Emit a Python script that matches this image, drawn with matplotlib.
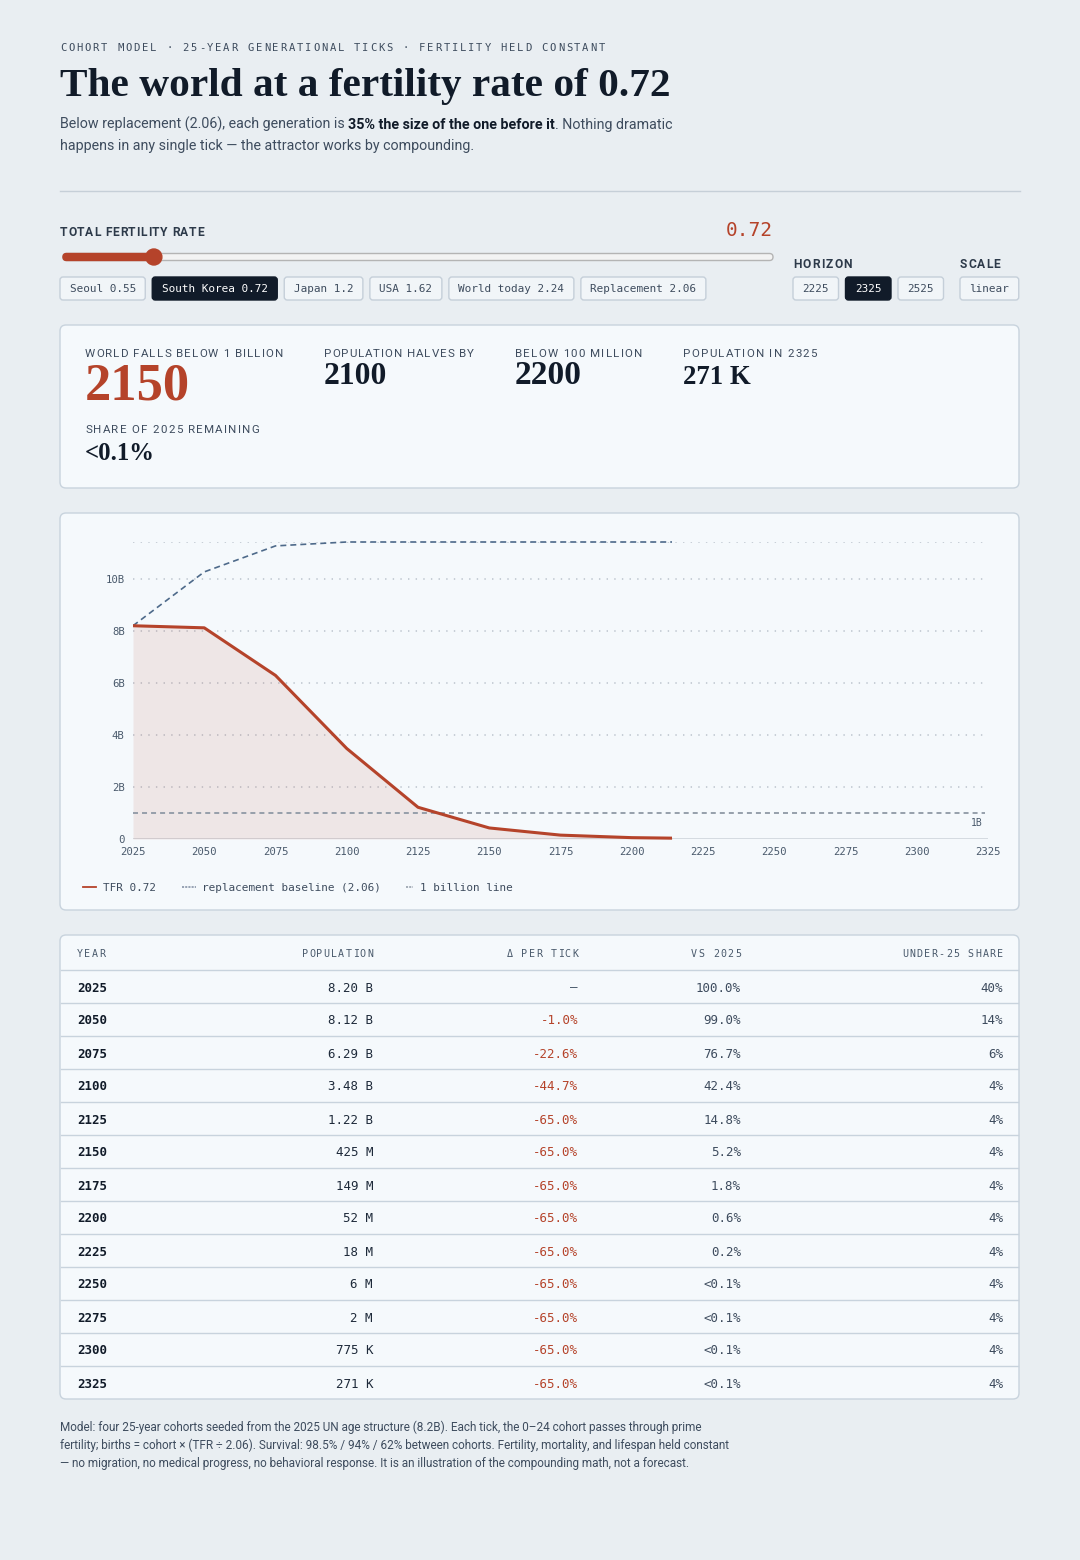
import matplotlib
matplotlib.use("Agg")
import matplotlib.pyplot as plt
from matplotlib.patches import FancyBboxPatch, Rectangle, Circle
from matplotlib.font_manager import FontProperties
from matplotlib.lines import Line2D
from matplotlib.ticker import FuncFormatter

plt.rcParams['lines.scale_dashes'] = False

# ---------------- data ----------------
TFR = 0.72
REPLACEMENT = 2.06
years = [2025, 2050, 2075, 2100, 2125, 2150, 2175, 2200, 2225, 2250, 2275, 2300, 2325]
population = [8.20e9, 8.12e9, 6.29e9, 3.48e9, 1.22e9, 425e6, 149e6, 52e6, 18e6, 6e6, 2e6, 775e3, 271e3]
baseline_pop = [8.20e9, 10.27e9, 11.27e9, 11.42e9, 11.42e9, 11.42e9, 11.42e9, 11.42e9,
                11.42e9, 11.42e9, 11.42e9, 11.42e9, 11.42e9]
delta_per_tick = [None, -1.0, -22.6, -44.7, -65.0, -65.0, -65.0, -65.0, -65.0, -65.0, -65.0, -65.0, -65.0]
vs_2025 = ["100.0%", "99.0%", "76.7%", "42.4%", "14.8%", "5.2%", "1.8%", "0.6%", "0.2%",
           "<0.1%", "<0.1%", "<0.1%", "<0.1%"]
under25_share = [40, 14, 6, 4, 4, 4, 4, 4, 4, 4, 4, 4, 4]
presets = [("Seoul", 0.55), ("South Korea", 0.72), ("Japan", 1.2), ("USA", 1.62),
           ("World today", 2.24), ("Replacement", 2.06)]
horizons = [2225, 2325, 2525]
horizon = 2325
scale_label = "linear"
stat_labels = ["WORLD FALLS BELOW 1 BILLION", "POPULATION HALVES BY", "BELOW 100 MILLION", "POPULATION IN 2325"]
stat_values = ["2150", "2100", "2200", "271 K"]
share_label = "SHARE OF 2025 REMAINING"
share_value = "<0.1%"
y_ticks_b = [0, 2, 4, 6, 8, 10]
reveal_year = 2214          # how far the animated line has been drawn
slider_min, slider_max = 0.4, 2.9
table_headers = ["YEAR", "POPULATION", "Δ PER TICK", "VS 2025", "UNDER-25 SHARE"]

# ---------------- style ----------------
W, H, DPI = 1080, 1560, 100
BG = "#e9eef2"
CARD = "#f5f9fc"
BORDER = "#c8d3dd"
INK = "#111b29"
MUTED = "#3e4c5e"
GRAYTXT = "#4a5a6c"
RED = "#b5432a"
SLATE = "#4e6a8a"
MONO = "DejaVu Sans Mono"
SANS = "Roboto"
SERIF = "Liberation Serif"
PT = 72.0 / DPI

fig = plt.figure(figsize=(W / DPI, H / DPI), dpi=DPI)
fig.patch.set_facecolor(BG)
bg = fig.add_axes([0, 0, 1, 1], zorder=0)
bg.set_xlim(0, W)
bg.set_ylim(H, 0)
bg.axis('off')
renderer = fig.canvas.get_renderer()


def prop(size_px, family, weight='normal'):
    return FontProperties(family=family, weight=weight, size=size_px * PT)


def tw(s, p):
    w, h, d = renderer.get_text_width_height_descent(s, p, ismath=False)
    return w


def adv(s, p):
    return tw(s + '|', p) - tw('|', p)


def fit_size(s, size_px, family, weight, width):
    p = prop(size_px, family, weight)
    return size_px * width / adv(s, p)


def txt(x, y, s, size_px, family=SANS, weight='normal', color=INK, ha='left',
        spaced_width=None, zorder=5):
    p = prop(size_px, family, weight)
    if spaced_width is None:
        bg.text(x, y, s, fontproperties=p, color=color, ha=ha, va='baseline', zorder=zorder)
        return
    widths = [adv(c, p) for c in s]
    spacing = (spaced_width - sum(widths)) / max(len(s) - 1, 1)
    total = sum(widths) + spacing * (len(s) - 1)
    cx = x if ha == 'left' else (x - total if ha == 'right' else x - total / 2)
    for c, w in zip(s, widths):
        if c != ' ':
            bg.text(cx, y, c, fontproperties=p, color=color, ha='left', va='baseline', zorder=zorder)
        cx += w + spacing


def segs(x, y, parts, size_px, family=SANS):
    cx = x
    for s, weight, col in parts:
        p = prop(size_px, family, weight)
        bg.text(cx, y, s, fontproperties=p, color=col, ha='left', va='baseline', zorder=5)
        cx += adv(s, p)


def card(x0, y0, x1, y1, fc=CARD, ec=BORDER, r=6, lw=1.0):
    bg.add_patch(FancyBboxPatch((x0, y0), x1 - x0, y1 - y0,
                                boxstyle=f"round,pad=0,rounding_size={r}",
                                fc=fc, ec=ec, lw=lw, zorder=1))


# ---------------- header ----------------
kicker = "COHORT MODEL · 25-YEAR GENERATIONAL TICKS · FERTILITY HELD CONSTANT"
txt(60, 51, kicker, 10.5, MONO, color=MUTED, spaced_width=545)

title = f"The world at a fertility rate of {TFR:.2f}"
ts = fit_size(title, 40, SERIF, 'bold', 610)
txt(60, 96, title, ts, SERIF, 'bold', INK)

sub1 = [("Below replacement (2.06), each generation is ", 'normal', MUTED),
        ("35% the size of the one before it", 'bold', INK),
        (". Nothing dramatic", 'normal', MUTED)]
p14 = [adv(s, prop(14, SANS, w)) for s, w, c in sub1]
ss = 14 * 614 / sum(p14)
segs(60, 129, sub1, ss)
txt(60, 150, "happens in any single tick — the attractor works by compounding.", ss, SANS, color=MUTED)

bg.plot([60, 1020], [191, 191], color="#c6cfd8", lw=1, zorder=2)

# ---------------- controls ----------------
txt(60, 236, "TOTAL FERTILITY RATE", 12, SANS, 'bold', "#2d3a4a", spaced_width=144)
txt(773, 236, f"{TFR:.2f}", 19.5, MONO, 'normal', RED, ha='right')

tx0, tx1, ty = 63, 773, 257
bg.add_patch(FancyBboxPatch((tx0, ty - 3.5), tx1 - tx0, 7, boxstyle="round,pad=0,rounding_size=3.5",
                            fc="#f3f3f3", ec="#b4b4b4", lw=1, zorder=2))
kx = tx0 + (TFR - slider_min) / (slider_max - slider_min) * (tx1 - tx0)
bg.add_patch(FancyBboxPatch((tx0, ty - 3.5), kx - tx0, 7, boxstyle="round,pad=0,rounding_size=3.5",
                            fc=RED, ec=RED, lw=1, zorder=3))
bg.add_patch(Circle((kx, ty), 8, fc=RED, ec=RED, zorder=4))


def button(x, label, active, y_top=277, h=23):
    p = prop(11, MONO)
    w = adv(label, p) + 19
    bg.add_patch(FancyBboxPatch((x, y_top), w, h, boxstyle="round,pad=0,rounding_size=3",
                                fc=INK if active else "#f1f5f8",
                                ec=INK if active else "#c5cfd9", lw=1, zorder=2))
    bg.text(x + w / 2, y_top + 15.5, label, fontproperties=p,
            color="white" if active else MUTED, ha='center', va='baseline', zorder=5)
    return x + w


bx = 60
for name, val in presets:
    bx = button(bx, f"{name} {val}", abs(val - TFR) < 1e-9) + 7

txt(793, 268, "HORIZON", 12, SANS, 'bold', "#2d3a4a", spaced_width=59)
bx = 793
for hz in horizons:
    bx = button(bx, str(hz), hz == horizon) + 7
txt(960, 268, "SCALE", 12, SANS, 'bold', "#2d3a4a", spaced_width=40)
button(960, scale_label, False)

# ---------------- stat card ----------------
card(60, 325, 1019, 488)
stat_x = [85, 324, 515, 683]
stat_lw = [198, 150, 127, 134]
stat_vw = [105, 63, 67, 68]
for i, (lab, val) in enumerate(zip(stat_labels, stat_values)):
    txt(stat_x[i], 357, lab, 11.5, SANS, color=MUTED, spaced_width=stat_lw[i])
    if i == 0:
        s = fit_size(val, 50, SERIF, 'bold', stat_vw[i])
        txt(stat_x[i], 400, val, s, SERIF, 'bold', RED)
    else:
        s = fit_size(val, 30, SERIF, 'bold', stat_vw[i])
        txt(stat_x[i], 384, val, s, SERIF, 'bold', INK)
txt(85, 433, share_label, 11.5, SANS, color=MUTED, spaced_width=174)
s = fit_size(share_value, 30, SERIF, 'bold', 70)
txt(85, 460, share_value, s, SERIF, 'bold', INK)

# ---------------- chart card ----------------
card(60, 513, 1019, 910)


def fig_rect(l, t, r, b):
    return [l / W, 1 - b / H, (r - l) / W, (b - t) / H]


ax = fig.add_axes(fig_rect(133, 542, 988, 839), zorder=2)
ax.patch.set_alpha(0)
pop_b = [p / 1e9 for p in population]
base_b = [p / 1e9 for p in baseline_pop]
ymax = max(base_b)
ax.set_xlim(years[0], years[-1])
ax.set_ylim(0, ymax)
for sp in ax.spines.values():
    sp.set_visible(False)
ax.set_xticks(years)
ax.set_yticks(y_ticks_b)
ax.yaxis.set_major_formatter(FuncFormatter(lambda v, p: "0" if v == 0 else f"{v:.0f}B"))
ax.tick_params(length=0, labelsize=10.6 * PT, labelcolor=GRAYTXT, labelfontfamily=MONO)
ax.tick_params(axis='y', pad=6)
ax.tick_params(axis='x', pad=5.5)
for v in y_ticks_b[1:] + [ymax]:
    ax.axhline(v, color="#bfc7d0", lw=1.2, linestyle=(0, (1, 4.5)), zorder=1)
ax.axhline(0, color="#d2d8de", lw=2, zorder=1)

clip = Rectangle((years[0], -1), reveal_year - years[0], ymax + 5, transform=ax.transData)
fb = ax.fill_between(years, pop_b, 0, color=RED, alpha=0.1, lw=0, zorder=2)
fb.set_clip_path(clip)
ln, = ax.plot(years, pop_b, color=RED, lw=2.2, zorder=4, solid_joinstyle='round')
ln.set_clip_path(clip)
bl, = ax.plot(years, base_b, color=SLATE, lw=1.2, dashes=(4.3, 2.9), zorder=3)
bl.set_clip_path(clip)
ax.plot([years[0], years[-1] - 1], [1.0, 1.0], color="#8f99a5", lw=1.3, dashes=(3.6, 2.9), zorder=3)
txt(983, 826, "1B", 9.8, MONO, color=GRAYTXT, ha='right')

# legend
bg.add_line(Line2D([83, 96], [887, 887], color=RED, lw=1.3, zorder=5))
txt(103, 891, f"TFR {TFR:.2f}", 11, MONO, color=MUTED)
bg.add_line(Line2D([182, 196], [887, 887], color="#7d8ba0", lw=1.1, dashes=(1.5, 0.8), zorder=5))
txt(202, 891, f"replacement baseline ({REPLACEMENT:.2f})", 11, MONO, color=MUTED)
bg.add_line(Line2D([406, 413], [887, 887], color="#8f99a5", lw=1.1, dashes=(1.5, 0.8), zorder=5))
txt(420, 891, "1 billion line", 11, MONO, color=MUTED)

# ---------------- table ----------------
card(60, 935, 1019, 1399)
row_h = 33
hdr_bottom = 970
col_x = [77, 373, 578, 741, 1003]
col_ha = ['left', 'right', 'right', 'right', 'right']
hdr_w = [28, 71, 71, 50, 101]
for hx, ha, hw, hs in zip(col_x, col_ha, hdr_w, table_headers):
    txt(hx, 957, hs, 10, MONO, color=GRAYTXT, ha=ha, spaced_width=hw)


def fmt_pop(v):
    if v >= 1e9:
        return f"{v / 1e9:.2f} B"
    if v >= 1e6:
        return f"{v / 1e6:.0f} M"
    return f"{v / 1e3:.0f} K"


RS = 12.5
for i in range(len(years)):
    ytop = hdr_bottom + i * row_h
    bg.plot([61, 1018], [ytop, ytop], color=BORDER, lw=1, zorder=2)
    yb = ytop + 21.5
    txt(col_x[0], yb, str(years[i]), RS, MONO, 'bold', INK)
    txt(col_x[1], yb, fmt_pop(population[i]), RS, MONO, color="#1e2a3a", ha='right')
    d = delta_per_tick[i]
    if d is None:
        txt(col_x[2], yb, "—", RS, MONO, color=GRAYTXT, ha='right')
    else:
        txt(col_x[2], yb, f"{d:.1f}%", RS, MONO, color=RED, ha='right')
    txt(col_x[3], yb, vs_2025[i], RS, MONO, color=MUTED, ha='right')
    txt(col_x[4], yb, f"{under25_share[i]}%", RS, MONO, color=MUTED, ha='right')

# ---------------- footer ----------------
foot = ["Model: four 25-year cohorts seeded from the 2025 UN age structure (8.2B). Each tick, the 0–24 cohort passes through prime",
        "fertility; births = cohort × (TFR ÷ 2.06). Survival: 98.5% / 94% / 62% between cohorts. Fertility, mortality, and lifespan held constant",
        "— no migration, no medical progress, no behavioral response. It is an illustration of the compounding math, not a forecast."]
fs = fit_size(foot[1], 11, SANS, 'normal', 679)
for k, line in enumerate(foot):
    txt(60, 1431 + 18 * k, line, fs, SANS, color=MUTED)

fig.savefig("out.png", dpi=DPI, facecolor=BG)
